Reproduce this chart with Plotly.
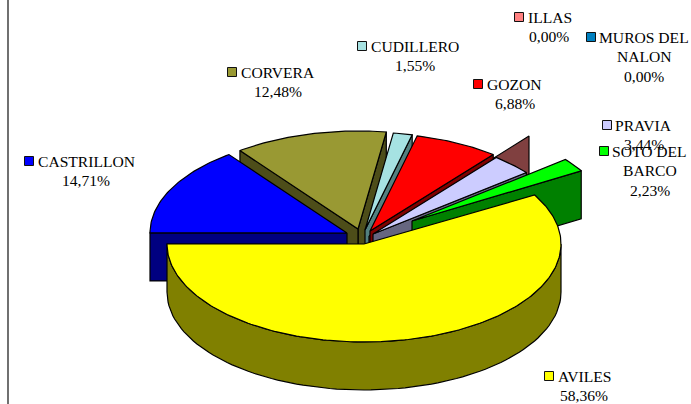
import math
import plotly.graph_objects as go

# Data
municipios = ["AVILES", "CASTRILLON", "CORVERA", "CUDILLERO", "GOZON", "ILLAS", "MUROS DEL NALON", "PRAVIA", "SOTO DEL BARCO"]
porcentajes = [58.36, 14.71, 12.48, 1.55, 6.88, 0.00, 0.00, 3.44, 2.23]
label_lines = [["AVILES"], ["CASTRILLON"], ["CORVERA"], ["CUDILLERO"], ["GOZON"], ["ILLAS"], ["MUROS DEL", "NALON"], ["PRAVIA"], ["SOTO DEL", "BARCO"]]

# Styles
top_colors = ["#ffff00", "#0000ff", "#999933", "#a6e2e2", "#ff0000", "#ff8080", "#0080c0", "#ccccff", "#00ff00"]
wall_colors = ["#808000", "#000080", "#4d4d19", "#538080", "#800000", "#804040", "#004060", "#666680", "#008000"]

# Layout of the exploded pie, in page pixels
RX, RY, DEPTH = 197, 98, 48
START_ANGLE = 30.0
apex = {0: (364, 244), 1: (347, 233), 2: (358, 229), 3: (365, 230), 4: (370, 231), 7: (373, 234), 8: (412, 221)}
illas_wall = ((369, 236), (529, 136))
draw_order = [2, 3, 5, 4, 7, 8, 1, 0]

key_xy = [(549, 376), (29, 161), (232, 72), (362, 46), (478, 84), (519, 17), (591, 37), (607, 125), (604, 151)]
name_xy = [(556, 376), (36, 161), (239, 72), (369, 46), (485, 84), (526, 17), (597, 37), (613, 125), (610, 151)]
center_x = [584, 86, 278, 415, 515, 549, 644, 644, 650]
FONT = dict(family="Liberation Serif", size=15.6, color="#000000")
LINE_H = 19.7

fig = go.Figure()


def poly(xs, ys, color):
    fig.add_trace(go.Scatter(x=xs, y=ys, mode="lines", fill="toself", fillcolor=color,
                             line=dict(color="#000000", width=1.2), hoverinfo="skip", showlegend=False))


def pt(c, deg):
    r = math.radians(deg)
    return c[0] + RX * math.cos(r), c[1] - RY * math.sin(r)


total = sum(porcentajes)
bounds, a = {}, START_ANGLE
for i, v in enumerate(porcentajes):
    sweep = 360 * v / total
    bounds[i] = (a, a - sweep)
    a -= sweep

# Keep the slice edges on the measured left horizontal of the yellow slice
for i in draw_order:
    if i == 5:
        (ax, ay), (bx, by) = illas_wall
        poly([ax, bx, bx, ax, ax], [ay, by, by + DEPTH, ay + DEPTH, ay], wall_colors[i])
        continue
    hi, lo = bounds[i]
    hi, lo = hi + 0.8 if i else hi, lo + 0.8
    c = apex[i]
    # radial walls that face the viewer
    for edge, visible in ((lo, (lo % 360) < 90 or (lo % 360) > 270), (hi, 90 < (hi % 360) <= 270)):
        if visible:
            ex, ey = pt(c, edge)
            poly([c[0], ex, ex, c[0], c[0]], [c[1], ey, ey + DEPTH, c[1] + DEPTH, c[1]], wall_colors[i])
    # rim wall on the front half
    front_hi, front_lo = min(hi, 0), max(lo, -180)
    if front_hi > front_lo:
        n = 90
        angles = [front_hi + (front_lo - front_hi) * k / n for k in range(n + 1)]
        rim = [pt(c, t) for t in angles]
        poly([p[0] for p in rim] + [p[0] for p in reversed(rim)] + [rim[0][0]],
             [p[1] for p in rim] + [p[1] + DEPTH for p in reversed(rim)] + [rim[0][1]], wall_colors[i])
    # top face
    n = max(6, int(hi - lo))
    rim = [pt(c, hi + (lo - hi) * k / n) for k in range(n + 1)]
    poly([c[0]] + [p[0] for p in rim] + [c[0]], [c[1]] + [p[1] for p in rim] + [c[1]], top_colors[i])

# Legend keys
fig.add_trace(go.Scatter(x=[p[0] for p in key_xy], y=[p[1] for p in key_xy], mode="markers",
                         marker=dict(symbol="square", size=9, color=top_colors, line=dict(color="#111111", width=1)),
                         hoverinfo="skip", showlegend=False))

# Labels
notes = []
for i, lines in enumerate(label_lines):
    nx, ny = name_xy[i]
    notes.append(dict(x=nx, y=ny, text=lines[0], xanchor="left", yanchor="middle", showarrow=False, font=FONT))
    y = ny
    for extra in lines[1:]:
        y += LINE_H
        notes.append(dict(x=center_x[i], y=y, text=extra, xanchor="center", yanchor="middle", showarrow=False, font=FONT))
    y += LINE_H
    notes.append(dict(x=center_x[i], y=y, text=f"{porcentajes[i]:.2f}".replace(".", ",") + "%",
                      xanchor="center", yanchor="middle", showarrow=False, font=FONT))

fig.update_layout(
    width=691, height=404, margin=dict(l=0, r=0, t=0, b=0), autosize=False,
    paper_bgcolor="#ffffff", plot_bgcolor="#ffffff", showlegend=False, annotations=notes,
    xaxis=dict(range=[0, 691], visible=False, fixedrange=True),
    yaxis=dict(range=[404, 0], visible=False, fixedrange=True),
    shapes=[dict(type="line", x0=8, x1=8, y0=0, y1=404, line=dict(color="#111111", width=1.2))],
)
fig.write_html("out.html", config={"displayModeBar": False},
               post_script="document.body.style.margin='0';document.documentElement.style.overflow='hidden';")
